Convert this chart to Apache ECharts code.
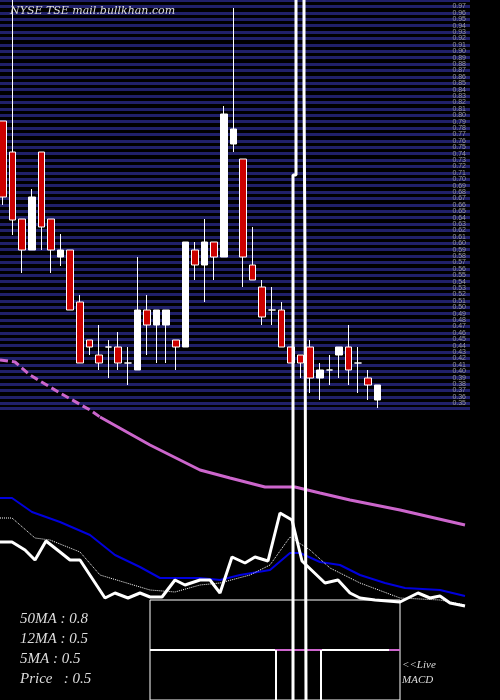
<!DOCTYPE html><html><head><meta charset="utf-8"><script src="https://cdn.jsdelivr.net/npm/echarts@6/dist/echarts.min.js"></script>
<style>html,body{margin:0;background:#000}#c{width:500px;height:700px}</style></head><body><div id="c"></div><script>
// candles: [open, close, low, high] (inverse price scale)
const candles=[[121,197,121,205],[152,220,0,235],[219,250,219,273],[250,197,250,189],[152,227,152,250],[219,250,219,273],[257,250,266,234],[250,310,250,310],[302,363,295,363],[340,347,340,355],[355,363,325,370],[347,347,378,340],[347,363,332,370],[363,363,385,347],[370,310,370,257],[310,325,295,355],[325,310,363,310],[325,310,363,310],[340,347,340,370],[347,242,347,242],[250,265,242,280],[265,242,302,219],[242,257,242,280],[257,114,257,106],[144,129,152,8],[159,257,159,287],[265,280,227,280],[287,317,280,325],[310,310,325,287],[310,347,302,347],[347,363,347,363],[355,363,355,378],[347,378,340,393],[378,370,400,363],[370,370,385,355],[355,347,378,347],[347,370,325,385],[363,363,393,347],[378,385,370,400],[400,385,408,385]];
const ma50a=[[0,360],[15,362],[30,375],[60,393],[90,410],[100,417]];
const ma50=[[100,417],[150,445],[200,470],[230,478],[265,487],[295,487],[320,493],[350,500],[400,510],[465,525]];
const ma12=[[0,498],[12,498],[32,512],[60,522],[90,535],[115,555],[140,567],[160,578],[200,578],[220,580],[240,575],[270,570],[290,553],[300,553],[320,562],[340,565],[360,575],[385,583],[405,588],[440,590],[465,596]];
const ma5=[[0,518],[12,518],[35,538],[50,540],[80,552],[100,575],[150,590],[175,592],[200,585],[220,583],[250,575],[270,565],[290,537],[310,550],[330,568],[360,583],[400,598],[440,600],[465,605]];
const price=[[0,542],[12,542],[25,550],[35,560],[46,541],[60,552],[70,560],[80,560],[105,598],[115,593],[128,598],[140,593],[150,597],[162,597],[175,580],[185,585],[200,580],[210,580],[220,593],[232,557],[245,563],[255,557],[268,561],[280,513],[292,520],[302,561],[325,583],[338,580],[350,593],[360,598],[375,600],[400,602],[418,593],[430,598],[440,596],[450,603],[465,606]];
const vol1=[[296,0],[296,175],[293,175],[293,700]];
const vol2=[[304,0],[304,88],[305,88],[305,263],[306,263],[306,700]];
const macdBox=[[150,600],[400,600],[400,700],[150,700],[150,600]];
const macdW1=[[150,650],[275,650]],macdM1=[[275,650],[322,650]],macdW2=[[322,650],[389,650]],macdM2=[[389,650],[400,650]];
const macdV1=[[276,650],[276,700]],macdV2=[[321,650],[321,700]];
const labels=['50MA : 0.8','12MA : 0.5','5MA : 0.5','Price   : 0.5'];
const ch=echarts.init(document.getElementById('c'));
const L=(d,c,w,t,x)=>({type:'line',xAxisIndex:1,yAxisIndex:0,data:d,symbol:'none',silent:true,lineStyle:{color:c,width:w,type:t||'solid'},z:x||3,animation:false});
ch.setOption({backgroundColor:'#000',animation:false,
grid:[{left:0,right:0,top:0,bottom:0},{left:0,top:0,width:470,height:408}],
xAxis:[{type:'value',min:-0.3125,max:51.77,show:false},{type:'value',min:0,max:500,show:false},{type:'value',gridIndex:1,min:0,max:1,show:false}],
yAxis:[{type:'value',inverse:true,min:0,max:700,show:false},{type:'value',gridIndex:1,inverse:true,min:0,max:408,interval:6.4,position:'right',axisLine:{show:false},axisTick:{show:false},splitLine:{show:true,lineStyle:{color:'#20206a',width:3}},axisLabel:{inside:true,color:'#999',fontSize:7,margin:4,formatter:v=>'0.'+String(Math.round(98-v/6.4)).padStart(2,'0')}}],
series:[
{type:'candlestick',xAxisIndex:0,yAxisIndex:0,data:candles.map((c,i)=>[i,...c]),encode:{x:0,y:[1,2,3,4]},barWidth:7,itemStyle:{color:'#cc0000',color0:'#ffffff',borderColor:'#ffffff',borderColor0:'#ffffff',borderWidth:1},z:4},
L(ma50a,'#cc66cc',3,[8,4]),L(ma50,'#cc66cc',3),L(ma12,'#0000dd',2),L(ma5,'#ffffff',1,'dotted'),L(price,'#ffffff',3),
L(vol1,'#ffffff',3,null,5),L(vol2,'#ffffff',3,null,5),
L(macdBox,'#ffffff',1),L(macdW1,'#ffffff',2),L(macdM1,'#cc66cc',2),L(macdW2,'#ffffff',2),L(macdM2,'#cc66cc',2),L(macdV1,'#ffffff',2),L(macdV2,'#ffffff',2)
],
graphic:[{type:'text',left:10,top:6,z:100,style:{text:'NYSE TSE mail.bullkhan.com',fill:'#ddd',font:'italic 11px "DejaVu Serif", serif'}},
...labels.map((t,i)=>({type:'text',left:20,top:612+i*20,z:100,style:{text:t,fill:'#ddd',font:'italic 15px "Liberation Serif", serif'}})),
{type:'text',left:402,top:658,z:100,style:{text:'<<Live\nMACD',fill:'#ddd',lineHeight:15,font:'italic 11px "Liberation Serif", serif'}}]
});
</script></body></html>
